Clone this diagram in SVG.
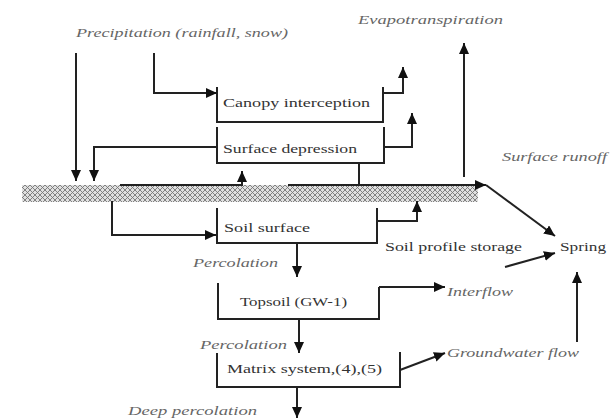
<svg xmlns="http://www.w3.org/2000/svg" width="613" height="419" viewBox="0 0 613 419" font-family="Liberation Serif, DejaVu Serif, serif">
<style>
.ln{fill:none;stroke:#222;stroke-width:2}
.ar{marker-end:url(#ah)}
.bx{fill:none;stroke:#222;stroke-width:2}
.lb{font-size:13px;fill:#333}
.it{font-size:13px;font-style:italic;fill:#666}
</style>
<defs>
<marker id="ah" markerUnits="userSpaceOnUse" markerWidth="12" markerHeight="10" refX="11" refY="5" orient="auto">
<path d="M0,0 L11,5 L0,10 z" fill="#111"/>
</marker>
<pattern id="hatch" patternUnits="userSpaceOnUse" width="5" height="5">
<rect width="5" height="5" fill="#e0e0e0"/>
<path d="M0,0 L5,5 M5,0 L0,5" stroke="#777" stroke-width="0.9"/>
</pattern>
</defs>
<g id="ground"><rect x="22" y="185" width="456" height="17" fill="url(#hatch)"/></g>
<g id="precipitation"><text class="it" x="76" y="37" textLength="212" lengthAdjust="spacingAndGlyphs">Precipitation (rainfall, snow)</text></g>
<g id="evapotranspiration"><text class="it" x="358" y="24" textLength="145" lengthAdjust="spacingAndGlyphs">Evapotranspiration</text></g>
<g id="canopy"><path class="bx" d="M217,87 V122 H383 V87"/><text class="lb" x="223" y="107" textLength="147" lengthAdjust="spacingAndGlyphs">Canopy interception</text></g>
<g id="depression"><path class="bx" d="M217,127 V163 H384 V127"/><text class="lb" x="223" y="153" textLength="134" lengthAdjust="spacingAndGlyphs">Surface depression</text></g>
<g id="surface-runoff"><text class="it" x="502" y="161" textLength="105" lengthAdjust="spacingAndGlyphs">Surface runoff</text></g>
<g id="soil-surface"><path class="bx" d="M217,208 V243 H377 V208"/><text class="lb" x="224" y="232" textLength="86" lengthAdjust="spacingAndGlyphs">Soil surface</text></g>
<g id="soil-profile"><text class="lb" x="385" y="251" textLength="137" lengthAdjust="spacingAndGlyphs">Soil profile storage</text></g>
<g id="spring"><text class="lb" x="560" y="251" textLength="46" lengthAdjust="spacingAndGlyphs">Spring</text></g>
<g id="percolation-1"><text class="it" x="193" y="267" textLength="85" lengthAdjust="spacingAndGlyphs">Percolation</text></g>
<g id="topsoil"><path class="bx" d="M218,283 V319 H379 V287"/><text class="lb" x="240" y="306" textLength="107" lengthAdjust="spacingAndGlyphs">Topsoil (GW-1)</text></g>
<g id="interflow"><text class="it" x="447" y="296" textLength="66" lengthAdjust="spacingAndGlyphs">Interflow</text></g>
<g id="percolation-2"><text class="it" x="200" y="349" textLength="87" lengthAdjust="spacingAndGlyphs">Percolation</text></g>
<g id="matrix"><path class="bx" d="M217,353 V387 H400 V352"/><text class="lb" x="227" y="373" textLength="155" lengthAdjust="spacingAndGlyphs">Matrix system,(4),(5)</text></g>
<g id="groundwater"><text class="it" x="447" y="357" textLength="132" lengthAdjust="spacingAndGlyphs">Groundwater flow</text></g>
<g id="deep-percolation"><text class="it" x="128" y="415" textLength="129" lengthAdjust="spacingAndGlyphs">Deep percolation</text></g>
<g id="connectors">
<path class="ln ar" d="M76,53 V181"/>
<path class="ln ar" d="M154,53 V93 H217"/>
<path class="ln ar" d="M383,93 H403 V67"/>
<path class="ln ar" d="M384,147 H412 V113"/>
<path class="ln ar" d="M217,147 H94 V181"/>
<path class="ln ar" d="M120,185 H242 V171"/>
<path class="ln" d="M359,163 V185"/>
<path class="ln ar" d="M288,185 H486"/>
<path class="ln ar" d="M486,185 L555,236"/>
<path class="ln ar" d="M464,177 V43"/>
<path class="ln ar" d="M112,201 V235 H216"/>
<path class="ln ar" d="M377,221 H417 V201"/>
<path class="ln ar" d="M505,267 L555,253"/>
<path class="ln ar" d="M297,243 V277"/>
<path class="ln ar" d="M379,287 H445"/>
<path class="ln ar" d="M299,319 V353"/>
<path class="ln ar" d="M400,370 L445,353"/>
<path class="ln ar" d="M577,342 V272"/>
<path class="ln ar" d="M297,387 V418"/>
</g>
</svg>
